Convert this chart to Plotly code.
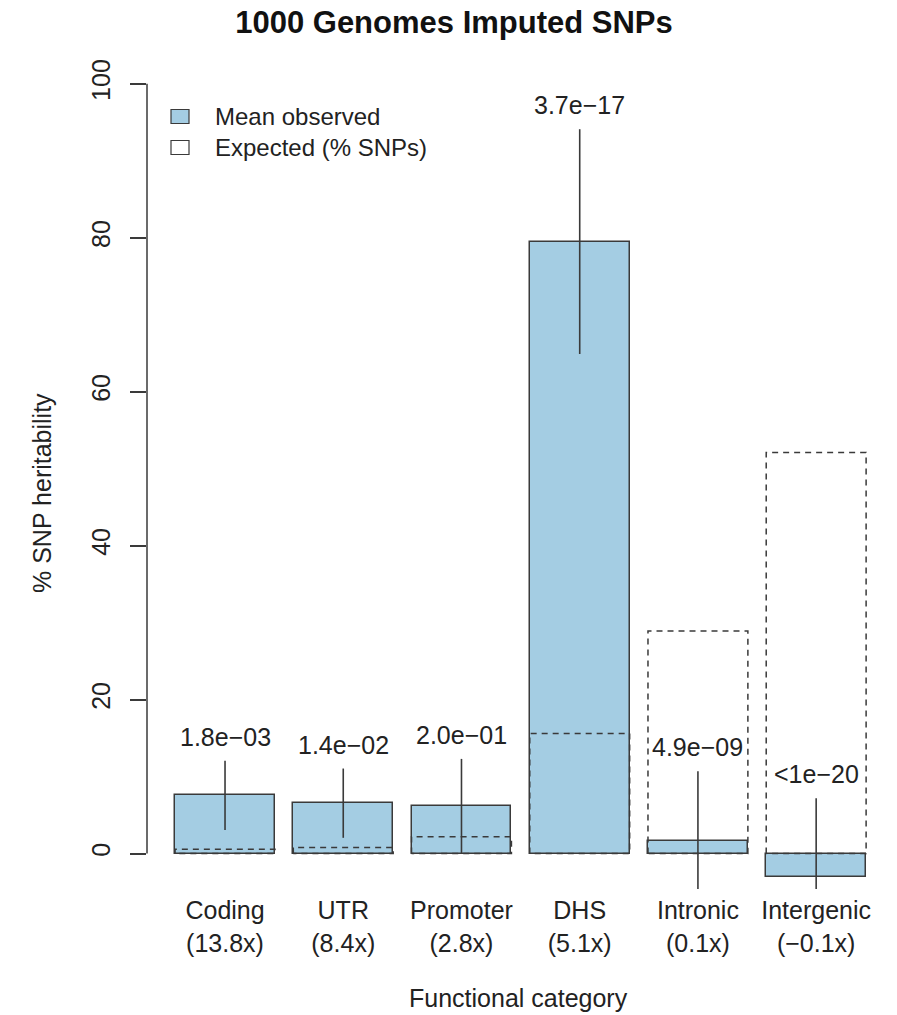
import plotly.graph_objects as go

# Functional categories and per-category results
categories = ["Coding", "UTR", "Promoter", "DHS", "Intronic", "Intergenic"]
enrichment = [13.8, 8.4, 2.8, 5.1, 0.1, -0.1]
observed = [7.55, 6.55, 6.15, 79.5, 1.6, -3.1]      # mean observed % SNP heritability
obs_err = [4.5, 4.5, 6.15, 14.6, 9.1, 10.3]          # error bar half-widths
expected = [0.55, 0.8, 2.2, 15.6, 28.9, 52.1]         # expected (% SNPs)
pvalues = ["1.8e\u221203", "1.4e\u221202", "2.0e\u221201",
           "3.7e\u221217", "4.9e\u221209", "<1e\u221220"]
y_ticks = [0, 20, 40, 60, 80, 100]

FONT = "Liberation Sans, Arial, Helvetica, sans-serif"
FILL = "#a4cde3"
INK = "#3a3a3a"
BAR_W = 0.845

W, H = 897, 1015
L, R, T, B = 147, 17, 53, 126
PW, PH = W - L - R, H - T - B


def px_x(p):
    return (p - L) / PW


def px_y(p):
    return (H - B - p) / PH


def fmt_enrich(v):
    s = f"{v:.1f}x"
    return s.replace("-", "\u2212")


xs = list(range(len(categories)))
ticktext = [f"{c}<br>({fmt_enrich(e)})" for c, e in zip(categories, enrichment)]

fig = go.Figure()

fig.add_trace(go.Bar(
    x=xs, y=observed, width=BAR_W,
    marker=dict(color=FILL, line=dict(color=INK, width=1.5)),
    error_y=dict(type="data", array=obs_err, symmetric=True,
                 width=0, thickness=1.6, color=INK),
    showlegend=False, hoverinfo="skip",
))

# Expected share of SNPs: dashed outline boxes over each category
for i, e in enumerate(expected):
    x0, x1 = i - BAR_W / 2, i + BAR_W / 2
    fig.add_trace(go.Scatter(
        x=[x0, x0, x1, x1, x0], y=[0, e, e, 0, 0], mode="lines",
        line=dict(color=INK, width=1.5, dash="6px,5px"),
        showlegend=False, hoverinfo="skip",
    ))

# p-value labels above the error bars
for i, (o, s, p) in enumerate(zip(observed, obs_err, pvalues)):
    fig.add_annotation(x=i, y=o + s, xref="x", yref="y", text=p,
                       showarrow=False, yanchor="middle", yshift=24,
                       font=dict(size=25, family=FONT, color="#222"))

shapes = [
    # y axis line spanning the tick range only
    dict(type="line", xref="paper", yref="y", x0=0, x1=0, y0=0, y1=100,
         line=dict(color=INK, width=1.5)),
    # legend swatches
    dict(type="rect", xref="paper", yref="paper",
         x0=px_x(171), x1=px_x(189), y0=px_y(123.5), y1=px_y(109.5),
         fillcolor=FILL, line=dict(color=INK, width=1.2)),
    dict(type="rect", xref="paper", yref="paper",
         x0=px_x(171), x1=px_x(189), y0=px_y(154.5), y1=px_y(140.5),
         fillcolor="white", line=dict(color=INK, width=1.2)),
]

legend_labels = [("Mean observed", 116.5), ("Expected (% SNPs)", 147.5)]
for txt, yc in legend_labels:
    fig.add_annotation(x=px_x(213), y=px_y(yc), xref="paper", yref="paper",
                       text=txt, showarrow=False, xanchor="left", yanchor="middle",
                       font=dict(size=24, family=FONT, color="#222"))

# axis titles
fig.add_annotation(x=px_x(42), y=px_y(493), xref="paper", yref="paper",
                   text="% SNP heritability", textangle=-90, showarrow=False,
                   xanchor="center", yanchor="middle",
                   font=dict(size=25, family=FONT, color="#222"))
fig.add_annotation(x=px_x(518), y=px_y(998), xref="paper", yref="paper",
                   text="Functional category", showarrow=False,
                   xanchor="center", yanchor="middle",
                   font=dict(size=25, family=FONT, color="#222"))

fig.update_layout(
    width=W, height=H,
    margin=dict(l=L, r=R, t=T, b=B, autoexpand=False),
    paper_bgcolor="white", plot_bgcolor="white",
    font=dict(family=FONT, size=25, color="#222"),
    title=dict(text="<b>1000 Genomes Imputed SNPs</b>", x=454 / W, xanchor="center",
               y=1 - 22 / H, yanchor="middle",
               font=dict(size=31, family=FONT, color="#111")),
    shapes=shapes,
    showlegend=False,
    bargap=0,
)

fig.update_xaxes(
    range=[-0.66, 5.54], tickvals=xs, ticktext=ticktext,
    showline=False, showgrid=False, zeroline=False, ticks="",
    tickfont=dict(size=25, family=FONT, color="#222"),
    ticklabelstandoff=4,
)
fig.update_yaxes(
    range=[-4.6, 104], tickvals=y_ticks, ticktext=[str(v) for v in y_ticks],
    tickangle=-90, ticks="outside", ticklen=16, tickwidth=1.5, tickcolor=INK,
    showline=False, showgrid=False, zeroline=False,
    tickfont=dict(size=25, family=FONT, color="#222"),
    ticklabelstandoff=10,
)

fig.write_html("out.html")
